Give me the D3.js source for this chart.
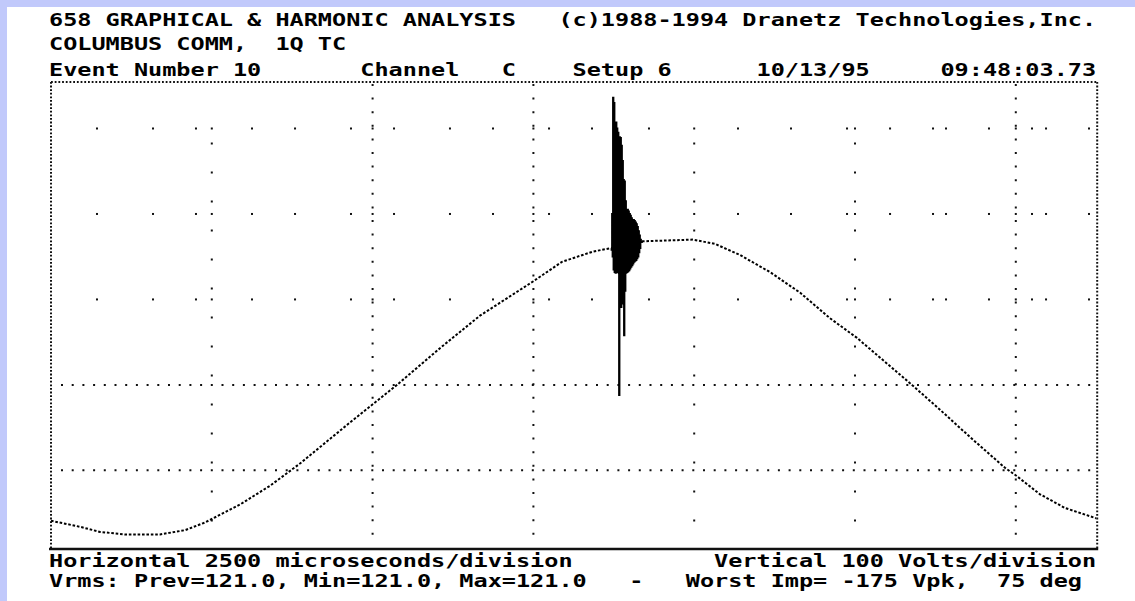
<!DOCTYPE html>
<html><head><meta charset="utf-8">
<script src="https://cdn.jsdelivr.net/npm/d3@7"></script>
<style>
html,body{margin:0;padding:0;background:#fff;}
svg{display:block;}
text{white-space:pre;}
</style></head><body>
<svg id="chart" width="1135" height="601"></svg>
<script>
// ---------------- data ----------------
const headerLines = [
  "658 GRAPHICAL & HARMONIC ANALYSIS   (c)1988-1994 Dranetz Technologies,Inc.",
  "COLUMBUS COMM,  1Q TC",
  "Event Number 10       Channel   C    Setup 6      10/13/95     09:48:03.73"
];
const footerLines = [
  "Horizontal 2500 microseconds/division          Vertical 100 Volts/division",
  "Vrms: Prev=121.0, Min=121.0, Max=121.0   -   Worst Imp= -175 Vpk,  75 deg"
];
const timeDomainUs = [0, 16250];      // 6.5 divisions of 2500 us
const voltDomain = [-192, 354.4];     // 100 V / division
const denseGridTimesUs = [5000, 7500, 15000];
const sparseGridTimesUs = [2500, 10000, 12500];
const denseGridVolts = [0, -100];
const sparseGridVolts = [100, 200, 300];
const rowDotTimesUs = [715, 1586, 2254, 3125, 3794, 4664, 5333, 6203, 6872, 7743, 8411, 9297,
  10681, 11505, 12376, 13045, 13713, 13915, 14583, 15252, 15470, 16138];

// fundamental waveform (us, V)
const waveTimeUs = [0, 451, 762, 1150, 1695, 2083, 2394, 2938, 3405, 3871, 4648, 5379, 6048,
  6669, 7494, 7944, 8426, 8706];
const waveVolts = [-159, -166, -172, -175, -175, -170, -161, -140, -118, -92, -44, 0, 43,
  81, 121, 144, 156, 160];
const waveTailTimeUs = [9188, 9981, 10323, 10712, 11178, 11645, 12111, 12531, 12966, 13386,
  13821, 14288, 14832, 15003, 15376, 15765, 16247];
const waveTailVolts = [168, 170, 165, 152, 132, 108, 78, 55, 27, 0,
  -29, -61, -97, -106, -128, -144, -156];

// oscillatory transient burst (us, V)
const burstTimeUs = [8714, 8722, 8730, 8737, 8745, 8753, 8761, 8769, 8776, 8784,
  8792, 8800, 8807, 8815, 8823, 8831, 8839, 8846, 8854, 8862,
  8870, 8877, 8885, 8893, 8901, 8908, 8916, 8924, 8932, 8940,
  8947, 8955, 8963, 8971, 8978, 8986, 8994, 9002, 9009, 9017,
  9025, 9033, 9041, 9048, 9056, 9064, 9072, 9079, 9087, 9095,
  9103, 9110, 9118, 9126, 9134, 9142, 9149, 9157, 9165, 9173];
const burstVolts = [158, 200, 150, 336, 135, 330, 132, 307, 131, 307,
  133, 300, 132, 295, 131, -12, 290, 95, 289, 91,
  280, 95, 262, 100, 240, 58, 238, 110, 215, 131,
  205, 132, 205, 133, 203, 134, 200, 136, 198, 138,
  195, 140, 193, 142, 193, 144, 192, 145, 190, 146,
  188, 148, 185, 150, 180, 155, 175, 160, 170, 167];

// ---------------- drawing ----------------
const svg = d3.select("#chart");
const W = 1135, H = 601;
const plot = {left: 51, right: 1096.2, top: 82, bottom: 549};
const x = d3.scaleLinear().domain(timeDomainUs).range([plot.left, plot.right]);
const y = d3.scaleLinear().domain(voltDomain).range([plot.bottom, plot.top]);
const ink = "#111";

svg.append("rect").attr("x", 0).attr("y", 0).attr("width", W).attr("height", H).attr("fill", "#fff");
svg.append("rect").attr("x", 0).attr("y", 0).attr("width", W).attr("height", 7).attr("fill", "#c1c9fb");
svg.append("rect").attr("x", 0).attr("y", 0).attr("width", 7).attr("height", H).attr("fill", "#c1c9fb");

const g = svg.append("g");

// frame
g.append("line").attr("x1", plot.left).attr("x2", plot.right + 1).attr("y1", plot.top).attr("y2", plot.top)
  .attr("stroke", ink).attr("stroke-width", 2).attr("stroke-dasharray", "1.8 1.9");
g.append("line").attr("x1", plot.left).attr("x2", plot.left).attr("y1", plot.top).attr("y2", plot.bottom)
  .attr("stroke", ink).attr("stroke-width", 2).attr("stroke-dasharray", "1.8 1.8");
g.append("line").attr("x1", plot.right + 1).attr("x2", plot.right + 1).attr("y1", plot.top).attr("y2", plot.bottom)
  .attr("stroke", ink).attr("stroke-width", 2).attr("stroke-dasharray", "1.8 1.8");
g.append("line").attr("x1", plot.left - 2).attr("x2", plot.right + 2).attr("y1", plot.bottom).attr("y2", plot.bottom)
  .attr("stroke", ink).attr("stroke-width", 2.4);

// dense grid rows
g.selectAll("line.drow").data(denseGridVolts).join("line").attr("class", "drow")
  .attr("x1", plot.left + 10).attr("x2", plot.right).attr("y1", d => y(d)).attr("y2", d => y(d))
  .attr("stroke", ink).attr("stroke-width", 2).attr("stroke-dasharray", "2 8.7");
// dense grid columns
g.selectAll("line.dcol").data(denseGridTimesUs).join("line").attr("class", "dcol")
  .attr("x1", d => x(d)).attr("x2", d => x(d)).attr("y1", plot.top + 2).attr("y2", plot.bottom - 4)
  .attr("stroke", ink).attr("stroke-width", 2).attr("stroke-dasharray", "2 11.6");
// sparse grid columns
g.selectAll("line.scol").data(sparseGridTimesUs).join("line").attr("class", "scol")
  .attr("x1", d => x(d)).attr("x2", d => x(d)).attr("y1", y(300) + 14).attr("y2", plot.bottom - 4)
  .attr("stroke", ink).attr("stroke-width", 2).attr("stroke-dasharray", "2 27");
// sparse rows: dots
const rowDots = [];
sparseGridVolts.forEach(v => {
  rowDotTimesUs.concat(denseGridTimesUs, sparseGridTimesUs).forEach(t => rowDots.push({t, v}));
});
g.selectAll("rect.dot").data(rowDots).join("rect").attr("class", "dot")
  .attr("x", d => x(d.t) - 1).attr("y", d => y(d.v) - 1).attr("width", 2).attr("height", 2).attr("fill", ink);

// waveform
const line = d3.line().x(d => x(d[0])).y(d => y(d[1]));
const head = waveTimeUs.map((t, i) => [t, waveVolts[i]]);
const tail = waveTailTimeUs.map((t, i) => [t, waveTailVolts[i]]);
const burst = burstTimeUs.map((t, i) => [t, burstVolts[i]]);
[head, tail].forEach(seg => {
  g.append("path").datum(seg).attr("d", line).attr("fill", "none")
    .attr("stroke", "#000").attr("stroke-width", 2).attr("stroke-dasharray", "2.6 1.8");
});
g.append("path").datum([head[head.length - 1]].concat(burst, [tail[0]]))
  .attr("d", d3.line().x(d => x(d[0])).y(d => y(d[1])).curve(d3.curveStepAfter))
  .attr("fill", "none").attr("stroke", "#000").attr("stroke-width", 1.8);

// text
const colW = 14.15;
const font = "'DejaVu Sans Mono', 'Liberation Mono', monospace";
function addLine(str, baseline) {
  svg.append("text").attr("x", 49).attr("y", baseline)
    .attr("xml:space", "preserve")
    .attr("font-family", font).attr("font-size", 17).attr("font-weight", "bold").attr("fill", "#000")
    .attr("textLength", str.length * colW).attr("lengthAdjust", "spacingAndGlyphs")
    .text(str);
}
const headerBaselines = [26, 50, 76];
headerLines.forEach((s, i) => addLine(s, headerBaselines[i]));
const footerBaselines = [567, 587];
footerLines.forEach((s, i) => addLine(s, footerBaselines[i]));
</script>
</body></html>
